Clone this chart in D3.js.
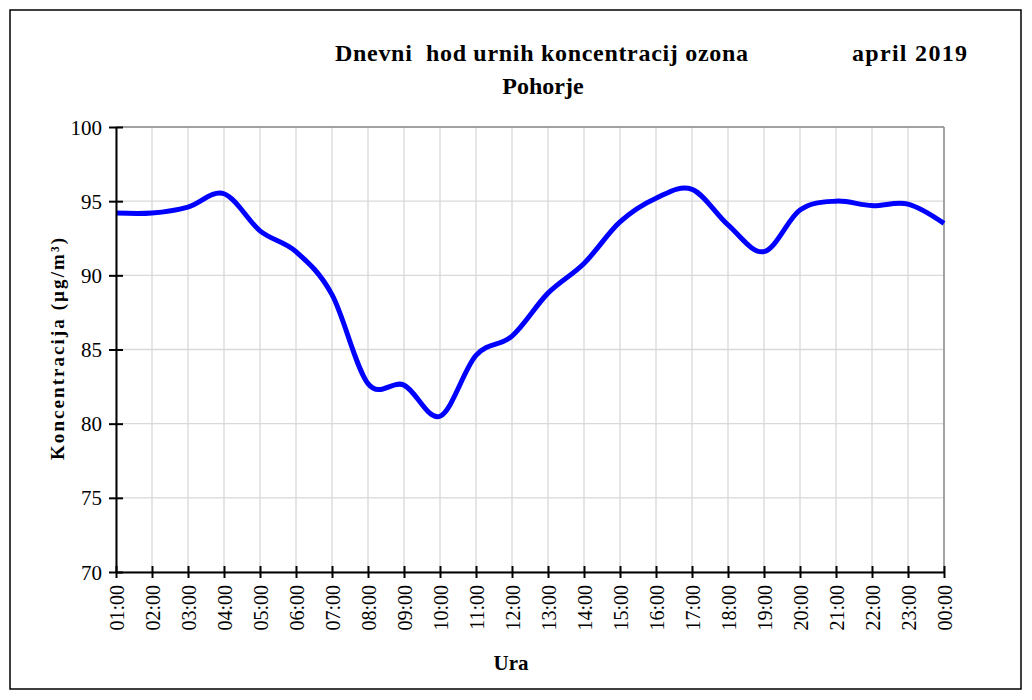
<!DOCTYPE html>
<html>
<head>
<meta charset="utf-8">
<script src="https://cdn.jsdelivr.net/npm/d3@7"></script>
<style>
  html, body { margin: 0; padding: 0; background: #fff; }
  svg { display: block; font-family: "Liberation Serif", "Times New Roman", Times, "DejaVu Serif", serif; }
  svg text { font-family: "Liberation Serif", "Times New Roman", Times, "DejaVu Serif", serif !important; fill: #000; }
</style>
</head>
<body>
<svg id="chart" width="1032" height="700"></svg>
<script>
// ---- data ----
const hours = ["01:00","02:00","03:00","04:00","05:00","06:00","07:00","08:00","09:00","10:00","11:00","12:00",
               "13:00","14:00","15:00","16:00","17:00","18:00","19:00","20:00","21:00","22:00","23:00","00:00"];
const ozone = [94.2, 94.2, 94.6, 95.5, 93.0, 91.6, 88.7, 82.7, 82.6, 80.5, 84.6, 85.9,
               88.8, 90.8, 93.6, 95.2, 95.8, 93.4, 91.6, 94.4, 95.0, 94.7, 94.8, 93.5];
const yTicks = [70, 75, 80, 85, 90, 95, 100];
const titleLine1 = "Dnevni  hod urnih koncentracij ozona";
const titleDate = "april 2019";
const titleLine2 = "Pohorje";
const yLabel = "Koncentracija (µg/m³)";
const xLabel = "Ura";

const FONT = '"Liberation Serif", "Times New Roman", Times, "DejaVu Serif", serif';

// ---- layout ----
const svg = d3.select("#chart");
const plot = { left: 116, right: 944, top: 127, bottom: 572 };

svg.append("rect").attr("x", 10).attr("y", 10).attr("width", 1011).attr("height", 679)
  .attr("fill", "#fff").attr("stroke", "#000").attr("stroke-width", 1.5);

const x = d3.scalePoint().domain(hours).range([plot.left, plot.right]);
const y = d3.scaleLinear().domain([70, 100]).range([plot.bottom, plot.top]);

// grid
const g = svg.append("g");
g.selectAll("line.vg").data(hours).join("line")
  .attr("x1", d => x(d)).attr("x2", d => x(d))
  .attr("y1", plot.top).attr("y2", plot.bottom)
  .attr("stroke", "#d9d9d9").attr("stroke-width", 1.3);
g.selectAll("line.hg").data(yTicks).join("line")
  .attr("x1", plot.left).attr("x2", plot.right)
  .attr("y1", d => y(d)).attr("y2", d => y(d))
  .attr("stroke", "#d9d9d9").attr("stroke-width", 1.3);

// plot frame top/right
svg.append("line").attr("x1", plot.left).attr("x2", plot.right).attr("y1", plot.top).attr("y2", plot.top)
  .attr("stroke", "#8c8c8c").attr("stroke-width", 1.5);
svg.append("line").attr("x1", plot.right).attr("x2", plot.right).attr("y1", plot.top).attr("y2", plot.bottom)
  .attr("stroke", "#8c8c8c").attr("stroke-width", 1.5);

// line
const line = d3.line()
  .x((d, i) => x(hours[i]))
  .y(d => y(d))
  .curve(d3.curveCardinal.tension(0));
svg.append("path").datum(ozone)
  .attr("d", line)
  .attr("fill", "none")
  .attr("stroke", "#0000ff")
  .attr("stroke-width", 5)
  .attr("stroke-linejoin", "round")
  .attr("stroke-linecap", "butt");

// y axis
const yAxis = d3.axisLeft(y).tickValues(yTicks).tickSizeInner(7).tickSizeOuter(0).tickPadding(10);
const ya = svg.append("g").attr("transform", `translate(${plot.left},0)`).call(yAxis)
  .attr("font-family", FONT);
ya.select(".domain").attr("stroke", "#000").attr("stroke-width", 2);
ya.selectAll(".tick line").attr("stroke", "#000").attr("stroke-width", 2).attr("x2", -7).attr("x1", 7);
ya.selectAll(".tick text").style("font-size", "21px").attr("x", -14).attr("dy", "0.34em");

// x axis
const xAxis = d3.axisBottom(x).tickSizeInner(6).tickSizeOuter(0).tickPadding(0);
const xa = svg.append("g").attr("transform", `translate(0,${plot.bottom})`).call(xAxis)
  .attr("font-family", FONT);
xa.select(".domain").attr("stroke", "#000").attr("stroke-width", 2);
xa.selectAll(".tick line").attr("stroke", "#000").attr("stroke-width", 2).attr("y1", -6).attr("y2", 6);
xa.selectAll(".tick text")
  .style("font-size", "20px")
  .attr("transform", "rotate(-90)")
  .attr("text-anchor", "end")
  .attr("x", -13).attr("y", 0).attr("dy", "0.35em");

// titles
svg.append("text").attr("x", 335).attr("y", 61).style("font-size", "24px").style("font-weight", "bold")
  .attr("textLength", 413).attr("lengthAdjust", "spacing")
  .style("white-space", "pre").text(titleLine1);
svg.append("text").attr("x", 852).attr("y", 61).style("font-size", "24px").style("font-weight", "bold")
  .attr("textLength", 115).attr("lengthAdjust", "spacing").text(titleDate);
svg.append("text").attr("x", 543).attr("y", 94).style("font-size", "24px").style("font-weight", "bold")
  .attr("text-anchor", "middle").text(titleLine2);

// axis labels
svg.append("text").attr("transform", "translate(64,349) rotate(-90)")
  .attr("text-anchor", "middle").style("font-size", "19px").style("font-weight", "bold")
  .attr("textLength", 222).attr("lengthAdjust", "spacing").text(yLabel);
svg.append("text").attr("x", 511).attr("y", 670).attr("text-anchor", "middle")
  .style("font-size", "21px").style("font-weight", "bold").text(xLabel);
</script>
</body>
</html>
